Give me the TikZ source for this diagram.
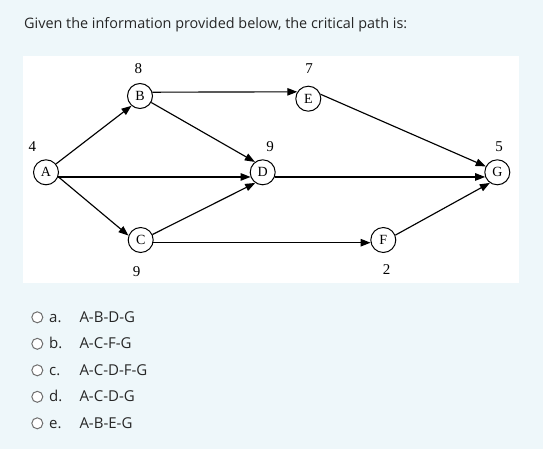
\documentclass[tikz,border=0pt]{standalone}
\usepackage{fontspec}
\setmainfont{Liberation Serif}
\newfontfamily\uifont{Open Sans}
\usetikzlibrary{arrows.meta}
\definecolor{panel}{RGB}{238,247,250}
\definecolor{uitext}{RGB}{38,38,38}
\definecolor{radiogray}{RGB}{110,110,110}
\begin{document}
\begin{tikzpicture}[x=1pt,y=-1pt,
  act/.style={circle,draw,line width=1pt,minimum size=25pt,inner sep=0pt,font=\fontsize{14}{14}\selectfont},
  num/.style={font=\fontsize{15}{15}\selectfont},
  link/.style={line width=1.15pt,-{Triangle[length=10pt,width=7.5pt]}},
  title/.style={font=\uifont\fontsize{14.4}{17}\selectfont,text=uitext,anchor=base west,inner sep=0pt},
  opt/.style={font=\uifont\fontsize{15}{17}\selectfont,text=uitext,anchor=base west,inner sep=0pt},
  radio/.style={circle,draw=radiogray,line width=1pt,fill=white,minimum size=11pt,inner sep=0pt}]
\fill[panel] (0,0) rectangle (543,449);
\useasboundingbox (0,0) rectangle (543,449);
\fill[white] (23,56) rectangle (519,283);
\node[title] (t) at (24,29) {Given the information provided below, the critical path is:};
% activity nodes
\node[act] (A) at (46,172.3) {A};
\node[act] (B) at (140,96) {B};
\node[act] (C) at (140.7,240) {C};
\node[act] (D) at (262.7,172.3) {D};
\node[act] (E) at (308.3,98.7) {E};
\node[act] (F) at (383.3,240) {F};
\node[act] (G) at (497.3,172.3) {G};
% durations
\node[num] (nA) at (32.3,146.7) {4};
\node[num] (nB) at (138.3,69) {8};
\node[num] (nD) at (270,146.7) {9};
\node[num] (nC) at (136.7,271.7) {9};
\node[num] (nE) at (309,69) {7};
\node[num] (nG) at (499,146.7) {5};
\begin{scope}
\clip (23,56) rectangle (519,275);
\node[num] (nF) at (386.7,270) {2};
\end{scope}
% connectors
\draw[link] (A.40) -- (B.229);
\draw[link] (A.-21) -- (D.201);
\draw[link] (A.-20) -- (C.160);
\draw[link] (B.-30) -- (D.127);
\draw[link] (C.25) -- (D.235);
\draw[link] (B.17) -- (E.148);
\draw[link] (C.-12) -- (F.192);
\draw[link] (E.20) -- (G.153);
\draw[link] (D.-21) -- (G.201);
\draw[link] (F.22) -- (G.235);
% options
\foreach \y/\l/\ans [count=\i] in {322.3/a./A-B-D-G,348.8/b./A-C-F-G,375.3/c./A-C-D-F-G,401.8/d./A-C-D-G,428.3/e./A-B-E-G}{
  \node[radio] (r\i) at (37.3,\y-5) {};
  \node[opt] (l\i) at (49,\y) {\l};
  \node[opt] (o\i) at (79.3,\y) {\ans};
}
\end{tikzpicture}
\end{document}
